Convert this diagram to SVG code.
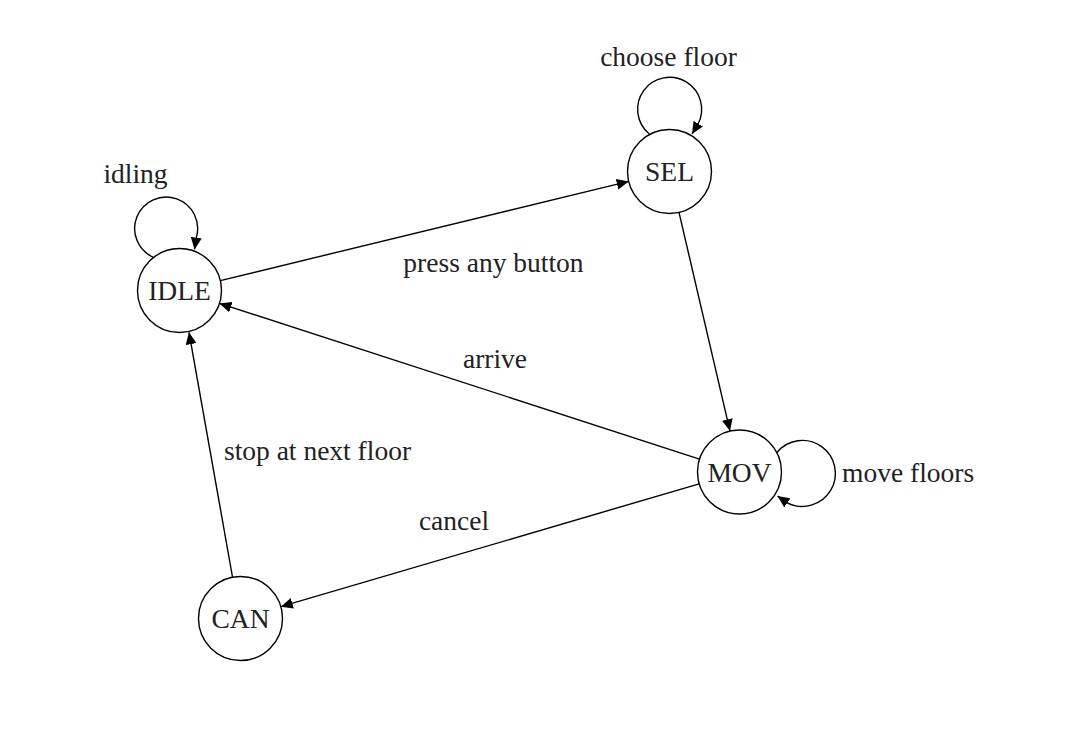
<svg xmlns="http://www.w3.org/2000/svg" width="1066" height="735" viewBox="0 0 1066 735">
<style>
  .node circle { fill: #fff; stroke: #000; stroke-width: 1.4; }
  text { font-family: "Liberation Serif", "Times New Roman", serif; font-size: 27.5px; fill: #222; }
  .lbl { text-anchor: middle; }
  .edge { fill: none; stroke: #000; stroke-width: 1.4; marker-end: url(#arrow); }
</style>
<defs>
  <marker id="arrow" viewBox="0 0 12 11" markerWidth="12" markerHeight="11" refX="12" refY="5.5" orient="auto" markerUnits="userSpaceOnUse">
    <path d="M0,0 L12,5.5 L0,11 z" fill="#000"/>
  </marker>
</defs>
<rect width="1066" height="735" fill="#fff"/>
<g id="connectors">
  <path class="edge" d="M220.3,280.6 L628.7,181.4"/>
  <path class="edge" d="M679,212.4 L730,431.1"/>
  <path class="edge" d="M699.5,459.1 L219.5,303.4"/>
  <path class="edge" d="M699.2,483.8 L280.8,606.7"/>
  <path class="edge" d="M232.5,577 L189,332.3"/>
  <path class="edge" d="M153.3,257.3 A31.5,31.5 0 1,1 196.2,238 L194.5,249.5"/>
  <path class="edge" d="M649.3,134 A32,32 0 1,1 697.8,124.5 L692,134"/>
  <path class="edge" d="M776.7,452.7 A33,33 0 1,1 787.3,502.8 L777.5,496"/>
  <text class="lbl" x="135.5" y="183">idling</text>
  <text class="lbl" x="668.5" y="66">choose floor</text>
  <text class="lbl" x="493.5" y="272">press any button</text>
  <text class="lbl" x="495" y="368">arrive</text>
  <text class="lbl" x="317.5" y="460">stop at next floor</text>
  <text class="lbl" x="454" y="530">cancel</text>
  <text x="842" y="482">move floors</text>
</g>
<g id="IDLE" class="node">
  <circle cx="179.5" cy="290.5" r="42"/>
  <text class="lbl" x="179.5" y="300">IDLE</text>
</g>
<g id="SEL" class="node">
  <circle cx="669.5" cy="171.5" r="42"/>
  <text class="lbl" x="669.5" y="181">SEL</text>
</g>
<g id="MOV" class="node">
  <circle cx="739.5" cy="472" r="42"/>
  <text class="lbl" x="739.5" y="481.5">MOV</text>
</g>
<g id="CAN" class="node">
  <circle cx="240.5" cy="618.5" r="42"/>
  <text class="lbl" x="240.5" y="628">CAN</text>
</g>
</svg>
